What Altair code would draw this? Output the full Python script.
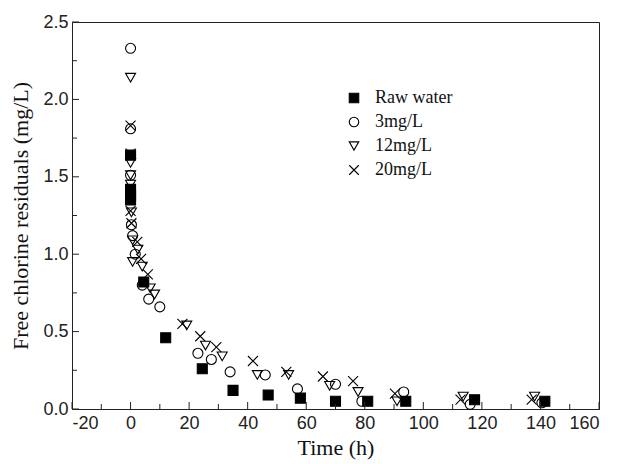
import altair as alt
import pandas as pd

series_names = ["Raw water", "3mg/L", "12mg/L", "20mg/L"]

raw_x = [0, 0, 0, 0, 4.5, 12, 24.5, 35, 47, 58, 70, 81, 94, 117.5, 141.5]
raw_y = [1.64, 1.42, 1.38, 1.35, 0.82, 0.46, 0.26, 0.12, 0.09, 0.07, 0.05, 0.05, 0.05, 0.06, 0.05]

c3_x = [0, 0, 0, 0.3, 0.7, 1.6, 4, 6.2, 10, 23, 27.6, 34, 46, 57, 70, 79, 93.3, 116, 140.5]
c3_y = [2.33, 1.81, 1.51, 1.19, 1.12, 1.00, 0.80, 0.71, 0.66, 0.36, 0.32, 0.24, 0.22, 0.13, 0.16, 0.05, 0.11, 0.03, 0.04]

c12_x = [0, 0, 0, 0, 0.3, 0.7, 2.5, 0.7, 4, 6.7, 8.2, 19.2, 25.6, 31.3, 43.3, 54, 68, 77.7, 91, 113.6, 138]
c12_y = [2.14, 1.59, 1.51, 1.45, 1.27, 1.09, 1.03, 0.95, 0.92, 0.78, 0.74, 0.54, 0.41, 0.34, 0.22, 0.22, 0.15, 0.11, 0.05, 0.08, 0.08]

c20_x = [0, 0, 0, 0.3, 2.3, 3.6, 5.9, 17.7, 23.8, 29.3, 41.8, 53.2, 65.7, 76, 90.3, 112.7, 137]
c20_y = [1.83, 1.65, 1.28, 1.20, 1.08, 0.97, 0.87, 0.55, 0.47, 0.40, 0.31, 0.24, 0.21, 0.18, 0.10, 0.06, 0.06]

x_major = [-20, 0, 20, 40, 60, 80, 100, 120, 140, 160]
x_minor = [-10, 10, 30, 50, 70, 90, 110, 130, 150]
y_major = [0.0, 0.5, 1.0, 1.5, 2.0, 2.5]
y_minor = [0.25, 0.75, 1.25, 1.75, 2.25]

rows = []
for name, xs, ys in zip(series_names, [raw_x, c3_x, c12_x, c20_x], [raw_y, c3_y, c12_y, c20_y]):
    for a, b in zip(xs, ys):
        rows.append({"t": a, "c": b, "s": name})
df = pd.DataFrame(rows)

W, H = 527, 387
xscale = alt.Scale(domain=[-20, 160], nice=False, zero=False)
yscale = alt.Scale(domain=[0, 2.5], nice=False, zero=False)

xaxis = alt.Axis(
    title="Time (h)", values=x_major, labelExpr="'' + datum.value", ticks=False, grid=False,
    labelFont="Liberation Sans", labelFontSize=18, labelColor="#222", labelPadding=5,
    domainColor="#222", titleFont="Liberation Serif", titleFontSize=22,
    titleFontWeight=400, titleColor="#111", titlePadding=5)
yaxis = alt.Axis(
    title="Free chlorine residuals (mg/L)", values=y_major, format=".1f", ticks=False,
    grid=False, labelFont="Liberation Sans", labelFontSize=18, labelColor="#222",
    labelPadding=4, domainColor="#222", titleFont="Liberation Serif", titleFontSize=22,
    titleFontWeight=400, titleColor="#111", titlePadding=10)

legend = alt.Legend(
    title=None, orient="none", legendX=273, legendY=67, padding=0,
    labelFont="Liberation Serif", labelFontSize=18, labelColor="#111",
    labelOffset=12, rowPadding=6, symbolSize=90, symbolStrokeColor="black",
    symbolStrokeWidth=1.1,
)

points = alt.Chart(df).mark_point(filled=True, opacity=1, size=100, strokeWidth=1.1).encode(
    x=alt.X("t:Q", scale=xscale, axis=xaxis),
    y=alt.Y("c:Q", scale=yscale, axis=yaxis),
    shape=alt.Shape("s:N", scale=alt.Scale(domain=series_names,
        range=["square", "circle", "triangle-down", "M-1,-1L1,1M-1,1L1,-1"]), legend=legend),
    fill=alt.Fill("s:N", scale=alt.Scale(domain=series_names,
        range=["black", "transparent", "transparent", "transparent"]), legend=legend),
    stroke=alt.Stroke("s:N", scale=alt.Scale(domain=series_names,
        range=["black", "black", "black", "black"]), legend=legend),
)

def ytick(vals, length):
    return alt.Chart(pd.DataFrame({"c": vals})).mark_rule(color="#222", strokeWidth=1).encode(
        y=alt.Y("c:Q", scale=yscale),
        x=alt.value(0), x2=alt.value(length))

def xtick(vals, length):
    return alt.Chart(pd.DataFrame({"t": vals})).mark_rule(color="#222", strokeWidth=1).encode(
        x=alt.X("t:Q", scale=xscale),
        y=alt.value(H), y2=alt.value(H - length))

chart = alt.layer(
    points, ytick(y_major, 7), ytick(y_minor, 5), xtick(x_major, 7), xtick(x_minor, 5)
).properties(
    width=W, height=H,
    autosize=alt.AutoSizeParams(type="none"),
    padding={"left": 64, "top": 14, "right": 10, "bottom": 52},
).configure_view(stroke="#222", strokeWidth=1)

chart.save("out.html", embed_options={"renderer": "svg", "actions": False})
